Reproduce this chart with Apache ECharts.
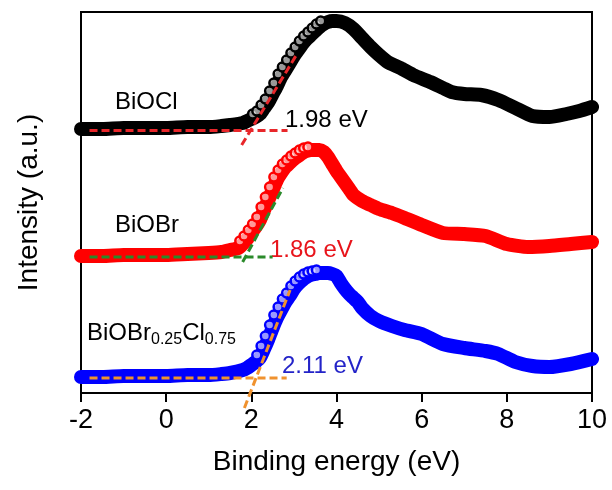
<!DOCTYPE html>
<html>
<head>
<meta charset="utf-8">
<script src="https://cdn.jsdelivr.net/npm/echarts@6/dist/echarts.min.js"></script>
<style>
  html, body { margin: 0; padding: 0; background: #fff; }
  #chart { width: 612px; height: 490px; }
</style>
</head>
<body>
<div id="chart"></div>
<script>
const FONT = '"Liberation Sans", Arial, Helvetica, sans-serif';

// Binding energy (eV) and intensity (a.u., curves offset vertically)
const energyBiOCl = [-2, -1.5, -1, -0.5, 0, 0.5, 1, 1.3, 1.5, 1.8, 1.9, 2.0, 2.1, 2.2, 2.3, 2.4, 2.5, 2.6, 2.7, 2.8, 2.9, 3.0, 3.1, 3.2, 3.3, 3.4, 3.5, 3.6, 3.7, 3.8, 3.9, 4.0, 4.2, 4.4, 4.6, 4.8, 5.0, 5.2, 5.5, 5.8, 6.2, 6.5, 6.7, 7.0, 7.4, 7.8, 8.2, 8.6, 9.0, 9.4, 9.7, 10];
const intensityBiOCl = [26.6, 26.6, 26.7, 26.7, 26.7, 26.8, 26.8, 26.9, 27.0, 27.2, 27.4, 27.6, 27.8, 28.1, 28.7, 29.3, 30.1, 30.9, 31.8, 32.5, 33.2, 33.9, 34.5, 35.1, 35.6, 36.0, 36.4, 36.8, 37.1, 37.3, 37.4, 37.4, 37.2, 36.6, 35.7, 34.8, 34.0, 33.3, 32.7, 32.0, 31.3, 30.7, 30.3, 30.1, 30.0, 29.5, 28.7, 27.9, 27.8, 28.1, 28.4, 28.8];

const energyBiOBr = [-2, -1.5, -1, -0.5, 0, 0.5, 1, 1.3, 1.5, 1.7, 1.8, 1.9, 2.0, 2.1, 2.2, 2.3, 2.4, 2.5, 2.6, 2.7, 2.8, 2.9, 3.0, 3.1, 3.2, 3.3, 3.4, 3.5, 3.6, 3.7, 3.8, 3.9, 4.0, 4.1, 4.2, 4.3, 4.4, 4.6, 4.8, 5.0, 5.3, 5.6, 6.0, 6.5, 7.0, 7.5, 8.0, 8.5, 9.0, 9.5, 10];
const intensityBiOBr = [13.9, 13.9, 14.0, 14.0, 14.0, 14.1, 14.2, 14.3, 14.5, 14.7, 15.1, 15.6, 16.2, 16.8, 17.5, 18.5, 19.5, 20.5, 21.5, 22.2, 22.8, 23.2, 23.6, 23.9, 24.2, 24.4, 24.5, 24.5, 24.5, 24.3, 23.8, 23.1, 22.4, 21.8, 21.2, 20.6, 20.0, 19.4, 19.0, 18.6, 18.2, 17.7, 17.0, 16.2, 16.1, 15.9, 15.1, 14.8, 14.9, 15.1, 15.3];

const energyMixed = [-2, -1.5, -1, -0.5, 0, 0.5, 1, 1.3, 1.5, 1.8, 1.9, 2.0, 2.1, 2.2, 2.3, 2.4, 2.5, 2.6, 2.7, 2.8, 2.9, 3.0, 3.1, 3.2, 3.3, 3.4, 3.5, 3.6, 3.7, 3.8, 3.9, 4.0, 4.1, 4.2, 4.3, 4.4, 4.5, 4.6, 4.8, 5.0, 5.3, 5.6, 6.0, 6.5, 7.0, 7.5, 7.8, 8.2, 8.6, 9.0, 9.5, 10];
const intensityMixed = [1.8, 1.8, 1.9, 1.9, 1.9, 2.0, 2.0, 2.1, 2.2, 2.5, 2.7, 3.0, 3.3, 3.7, 4.6, 5.6, 6.7, 7.7, 8.5, 9.3, 9.9, 10.6, 11.1, 11.5, 11.8, 12.0, 12.1, 12.2, 12.2, 12.2, 12.1, 11.9, 11.2, 10.6, 10.1, 9.7, 9.3, 8.7, 7.9, 7.4, 6.9, 6.5, 6.1, 5.1, 4.7, 4.4, 4.1, 3.3, 2.9, 2.8, 3.1, 3.6];

// Absorption-edge extrapolation: band gaps and the tangent construction
const bandGaps = [1.98, 1.86, 2.11];
const baselineLevels = [26.45, 13.8, 1.7];
const baselineStart = -1.8;
const baselineEnds = [2.85, 2.5, 2.83];
const tangentSlopes = [7.0, 7.83, 11.0];
const tangentLows = [25.0, 13.3, -1.3];
const tangentHighs = [34.0, 20.7, 10.5];

const curveColors = ['#000000', '#ff0000', '#0000ff'];
const guideColors = ['#e8262a', '#2a8a2a', '#f0922e'];
const gapTextColors = ['#000000', '#e8141b', '#2323c8'];
// Range over which the individual open circles show along the rising edge
const edgeRanges = [[2.1, 3.7], [1.8, 3.4], [2.2, 3.6]];

const energies = [energyBiOCl, energyBiOBr, energyMixed];
const intensities = [intensityBiOCl, intensityBiOBr, intensityMixed];

function curveSeries(i) {
  const color = curveColors[i];
  const [lo, hi] = edgeRanges[i];
  return {
    type: 'line',
    data: energies[i].map((x, k) => ({
      value: [x, intensities[i][k]],
      symbol: (x >= lo && x <= hi) ? 'circle' : 'none'
    })),
    smooth: 0.2,
    showAllSymbol: true,
    symbolSize: 9,
    symbolOffset: [-3, -3],
    lineStyle: { color: color, width: 14, cap: 'round', join: 'round' },
    itemStyle: { color: 'rgba(255,255,255,0.6)', borderColor: color, borderWidth: 2.5 },
    emphasis: { disabled: true },
    z: 2
  };
}

function guideSeries(i) {
  const g = bandGaps[i], b = baselineLevels[i], s = tangentSlopes[i];
  const style = { color: guideColors[i], width: 3, type: [8, 4] };
  return [
    {
      type: 'line', data: [[baselineStart, b], [baselineEnds[i], b]],
      symbol: 'none', clip: false, lineStyle: style, emphasis: { disabled: true }, z: 5
    },
    {
      type: 'line',
      data: [[g + (tangentLows[i] - b) / s, tangentLows[i]], [g + (tangentHighs[i] - b) / s, tangentHighs[i]]],
      symbol: 'none', clip: false, lineStyle: style, emphasis: { disabled: true }, z: 5
    }
  ];
}

const series = [];
for (let i = 0; i < 3; i++) series.push(curveSeries(i));
for (let i = 0; i < 3; i++) series.push(...guideSeries(i));

const labelStyle = { fontFamily: FONT, fontSize: 24, fill: '#000', verticalAlign: 'top' };

const chart = echarts.init(document.getElementById('chart'), null, { renderer: 'canvas' });
chart.setOption({
  animation: false,
  backgroundColor: '#fff',
  grid: { left: 81, right: 20, top: 12, bottom: 97, show: true, borderColor: '#000', borderWidth: 2 },
  xAxis: {
    type: 'value', min: -2, max: 10, interval: 2,
    name: 'Binding energy (eV)', nameLocation: 'middle', nameGap: 55,
    nameTextStyle: { fontFamily: FONT, fontSize: 28, color: '#000' },
    axisLine: { show: true, onZero: false, lineStyle: { color: '#000', width: 2 } },
    axisTick: { show: true, inside: false, length: 9, lineStyle: { color: '#000', width: 2 } },
    axisLabel: { fontFamily: FONT, fontSize: 27, color: '#000', margin: 14 },
    splitLine: { show: false }
  },
  yAxis: {
    type: 'value', min: 0.2, max: 38.3,
    name: 'Intensity (a.u.)', nameLocation: 'middle', nameGap: 38,
    nameTextStyle: { fontFamily: FONT, fontSize: 28, color: '#000' },
    axisLine: { show: true, onZero: false, lineStyle: { color: '#000', width: 2 } },
    axisTick: { show: false },
    axisLabel: { show: false },
    splitLine: { show: false }
  },
  series: series,
  graphic: [
    { type: 'text', left: 115, top: 90, style: Object.assign({}, labelStyle, { text: 'BiOCl' }) },
    { type: 'text', left: 115, top: 213, style: Object.assign({}, labelStyle, { text: 'BiOBr' }) },
    {
      type: 'text', left: 87, top: 321,
      style: Object.assign({}, labelStyle, {
        text: 'BiOBr{s|0.25}Cl{s|0.75}',
        rich: { s: { fontFamily: FONT, fontSize: 16, padding: [14, 0, 0, 0] } }
      })
    },
    { type: 'text', left: 285, top: 108, style: Object.assign({}, labelStyle, { text: bandGaps[0].toFixed(2) + ' eV', fill: gapTextColors[0] }) },
    { type: 'text', left: 270, top: 238, style: Object.assign({}, labelStyle, { text: bandGaps[1].toFixed(2) + ' eV', fill: gapTextColors[1] }) },
    { type: 'text', left: 282, top: 354, style: Object.assign({}, labelStyle, { text: bandGaps[2].toFixed(2) + ' eV', fill: gapTextColors[2] }) }
  ]
});
</script>
</body>
</html>
